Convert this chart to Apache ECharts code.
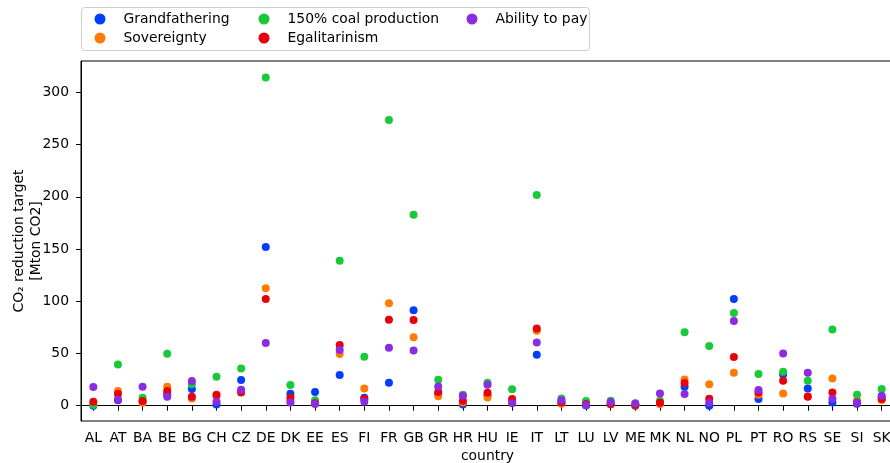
<!DOCTYPE html>
<html><head><meta charset="utf-8">
<script src="https://cdn.jsdelivr.net/npm/echarts@6/dist/echarts.min.js"></script>
<style>html,body{margin:0;padding:0;background:#fff}#c{width:890px;height:463px}</style>
</head><body><div id="c"></div>
<script>
const countries = ["AL","AT","BA","BE","BG","CH","CZ","DE","DK","EE","ES","FI","FR","GB","GR","HR","HU","IE","IT","LT","LU","LV","ME","MK","NL","NO","PL","PT","RO","RS","SE","SI","SK"];
const grandfathering = [0,5.2,4,10.9,16,1.3,24.6,152,11.5,13.1,29.4,7.7,22,91.3,11,1.3,10,3.5,48.9,3,0.3,1.5,0,2,18.2,0,102.1,6.4,30,16.6,3.2,2,8];
const sovereignty = [1.3,14,2.9,18.2,7,9,13.5,112.4,5,2.5,49.5,16.6,98,65.5,9,3.2,8,4.5,71.8,2,1,1.5,0.5,1.6,25.2,20.5,31.6,10.5,11.8,9,26.2,4.8,5.5];
const coal150 = [1,39.6,7.7,49.8,20.5,27.8,35.6,314.3,19.8,5.2,138.8,46.9,273.5,182.9,24.9,10.5,22,15.7,201.7,7,4.5,4.8,1,4.8,70.3,57.1,88.7,30.3,32.5,24,73.1,10.5,16];
const egalitarinism = [3.8,11.2,4.5,14,8.6,10.5,12.8,102.1,7.7,2.5,58.1,6.4,82.3,82,13.1,4.8,12.5,6.4,74,3.2,1.6,1.6,0.7,2.9,21.7,6.7,46.6,12.8,24,8.6,12.8,3,6.4];
const abilityToPay = [17.9,5.8,18.2,8.6,23.6,3.8,15.3,60,3.2,1.6,53.3,3.8,55.5,53,18.5,9.6,20.1,2.3,60.6,5.2,0.7,3.5,2.3,11.8,11.2,2.9,81.1,15,50.1,31.6,6.7,2.9,9.6];
const yTicks = [0,50,100,150,200,250,300];

const FONT = 'DejaVu Sans';
const FS = 13.9;
const seriesDefs = [
  {name:'Grandfathering', data:grandfathering, color:'#023eff'},
  {name:'Sovereignty', data:sovereignty, color:'#ff7c00'},
  {name:'150% coal production', data:coal150, color:'#1ac938'},
  {name:'Egalitarinism', data:egalitarinism, color:'#e8000b'},
  {name:'Ability to pay', data:abilityToPay, color:'#8b2be2'}
];
const chart = echarts.init(document.getElementById('c'), null, {renderer:'canvas'});
function leg(names, left){
  return {orient:'vertical', left:left, top:11, padding:0, itemGap:3, itemWidth:11, itemHeight:11,
    icon:'circle', data:names, selectedMode:false,
    textStyle:{fontFamily:FONT, fontSize:FS, color:'#000', lineHeight:16, padding:[0,0,0,13]}};
}
chart.setOption({
  animation:false,
  graphic:[{type:'rect', z:-1, shape:{x:81.5,y:7.5,width:508,height:43,r:3}, style:{fill:'#fff', stroke:'#cccccc', lineWidth:1}}],
  legend:[leg(['Grandfathering','Sovereignty'],94.5), leg(['150% coal production','Egalitarinism'],258.5), leg(['Ability to pay'],466.5)],
  grid:{left:81, top:61, width:813, height:360, show:true, borderColor:'#000', borderWidth:1, backgroundColor:'transparent',
    outerBoundsMode:'none', containLabel:false},
  xAxis:{type:'category', data:countries, boundaryGap:true,
    name:'country', nameLocation:'middle', nameGap:28, nameMoveOverlap:false,
    nameTextStyle:{fontFamily:FONT, fontSize:FS, color:'#000'},
    axisLine:{show:true, lineStyle:{color:'#000', width:1}},
    axisTick:{show:true, alignWithLabel:true, length:5, lineStyle:{color:'#000'}},
    axisLabel:{fontFamily:FONT, fontSize:FS, color:'#000', margin:10, interval:0},
    splitLine:{show:false}},
  yAxis:{type:'value', min:-14.6, max:330, interval:50,
    name:'CO\u2082 reduction target\n[Mton CO2]', nameLocation:'middle', nameGap:36, nameRotate:90, nameMoveOverlap:false,
    nameTextStyle:{fontFamily:FONT, fontSize:FS, color:'#000', lineHeight:17, align:'center'},
    axisLine:{show:true, onZero:false, lineStyle:{color:'#000', width:1}},
    axisLabel:{fontFamily:FONT, fontSize:FS, color:'#000', margin:12,
      customValues: yTicks, formatter: v => String(v)},
    axisTick:{show:true, length:5, lineStyle:{color:'#000'}, customValues: yTicks},
    splitLine:{show:false}},
  series: seriesDefs.map(s => ({name:s.name, type:'scatter', data:s.data, symbol:'circle', symbolSize:8,
    itemStyle:{color:s.color, opacity:1}, emphasis:{disabled:true}}))
});
</script></body></html>
